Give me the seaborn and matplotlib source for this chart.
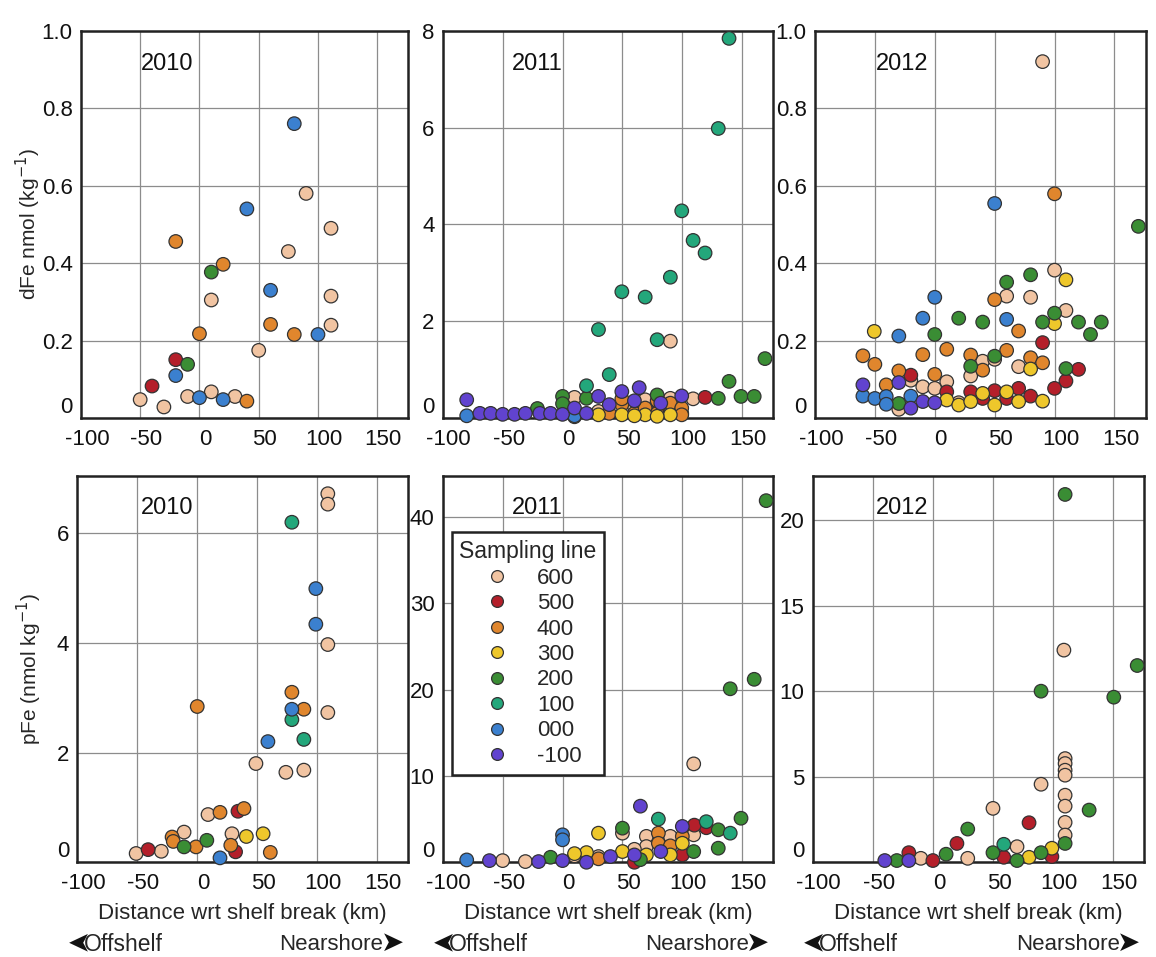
import pandas as pd
import seaborn as sns
import matplotlib.pyplot as plt
from matplotlib.transforms import ScaledTranslation

# Sampling lines and their colours (legend order)
lines = ['600', '500', '400', '300', '200', '100', '000', '-100']
line_colors = ['#f1c4a2', '#b41f2a', '#e0862d', '#eec72b', '#3a8d34', '#23a77b', '#3b80cf', '#6143cf']

years = ['2010', '2011', '2012']
x_ticks = [-100, -50, 0, 50, 100, 150]

# Values per panel, one sub-list per sampling line (same order as `lines`)
# dFe 2010
dfe_2010_km = [[90, 111, 75, 111, 111, 10, 50, -50, -30, -10, 10, 30],
               [-20, -40],
               [-20, 20, 0, 60, 80, 40],
               [],
               [10, -10],
               [],
               [80, 40, 60, 100, 0, 20, -20],
               []]
dfe_2010_val = [[0.58, 0.49, 0.43, 0.315, 0.24, 0.305, 0.175, 0.048, 0.029, 0.056, 0.068, 0.056],
                [0.151, 0.083],
                [0.456, 0.397, 0.218, 0.242, 0.216, 0.044],
                [],
                [0.377, 0.139],
                [],
                [0.76, 0.54, 0.33, 0.216, 0.053, 0.048, 0.11],
                []]

# dFe 2011
dfe_2011_km = [[90, 109, 10, 30, 60, 69, 90],
               [119, 99.5, 80],
               [39, 49.5, 60, 69, 79, 90, 99.5, 99.5, 49.5, 79],
               [30, 49.5, 69, 90, 10, 60, 79],
               [169, 139, 149, 160, 130, -21, 0, 20, 79, 0],
               [139, 130, 99.5, 109, 119, 90, 49.5, 69, 30, 79, 39, 20],
               [-80, 10],
               [99.5, -80, -69, -60, -50, -40, -31, -19, -10, 0, 30, 49.5, 64, 39, 60, 82, 10, 20]]
dfe_2011_val = [[1.59, 0.40, 0.43, 0.14, 0.24, 0.38, 0.41],
                [0.43, 0.10, 0.20],
                [0.10, 0.28, 0.10, 0.21, 0.10, 0.31, 0.21, 0.07, 0.40, 0.36],
                [0.07, 0.07, 0.07, 0.07, 0.03, 0.05, 0.04],
                [1.23, 0.76, 0.45, 0.45, 0.41, 0.20, 0.45, 0.41, 0.48, 0.30],
                [7.84, 5.98, 4.28, 3.67, 3.41, 2.91, 2.61, 2.50, 1.83, 1.62, 0.90, 0.67],
                [0.05, 0.05],
                [0.46, 0.38, 0.10, 0.10, 0.08, 0.08, 0.10, 0.10, 0.10, 0.08, 0.45, 0.55, 0.63, 0.28, 0.36, 0.31, 0.21, 0.10]]

# dFe 2012
dfe_2012_km = [[90, 100, 60, 80, 109.5, 40, 50, 70, 30, 10, -20, -10, 0, -30, 20],
               [90, 120, 109.5, 100, -20, 30, 50, 70, 80, 40, 60, 10],
               [100, 50, 70, -60, -50, -10, 10, 30, 60, 80, 90, 40, -30, 0, -40.5],
               [109.5, 100, -50.5, 80, 10, 20, 30, 40, 50, 60, 70, 90],
               [170, 80, 60, 100, 90, 120, 139, 130, 20, 40, 0, 30, 50, 109.5, -30],
               [],
               [50, 0, -10, 60, -30, -60, -50, -40.5, -40.5, -20],
               [-60, -30, -10, 0, -20]]
dfe_2012_val = [[0.92, 0.382, 0.315, 0.312, 0.278, 0.147, 0.152, 0.133, 0.109, 0.094, 0.098, 0.081, 0.077, 0.023, 0.040],
                [0.195, 0.126, 0.096, 0.077, 0.111, 0.068, 0.071, 0.077, 0.057, 0.051, 0.051, 0.068],
                [0.579, 0.306, 0.225, 0.161, 0.139, 0.164, 0.178, 0.163, 0.175, 0.156, 0.143, 0.124, 0.122, 0.113, 0.086],
                [0.357, 0.244, 0.224, 0.127, 0.047, 0.034, 0.043, 0.064, 0.034, 0.068, 0.043, 0.044],
                [0.495, 0.37, 0.351, 0.271, 0.248, 0.248, 0.248, 0.216, 0.258, 0.248, 0.216, 0.134, 0.16, 0.128, 0.038],
                [],
                [0.554, 0.312, 0.258, 0.255, 0.212, 0.057, 0.051, 0.056, 0.036, 0.057],
                [0.086, 0.092, 0.043, 0.040, 0.026]]

# pFe 2010
pfe_2010_km = [[109, 109, 109, 109, 49, 74, 89, 9, -11, 29, -51, -30],
               [34, 32, -41],
               [79, 0, 89, 19, 39, -21, -20, -1, 28, 61],
               [41, 55],
               [-11, 8],
               [79, 79, 89],
               [99, 99, 79, 59, 19],
               []]
pfe_2010_val = [[6.72, 6.53, 3.97, 2.73, 1.80, 1.64, 1.68, 0.87, 0.55, 0.52, 0.16, 0.20],
                [0.93, 0.19, 0.23],
                [3.10, 2.84, 2.79, 0.91, 0.98, 0.46, 0.38, 0.28, 0.31, 0.18],
                [0.47, 0.52],
                [0.28, 0.40],
                [6.20, 2.60, 2.24],
                [4.99, 4.34, 2.79, 2.20, 0.08],
                []]

# pFe 2011
pfe_2011_km = [[109.5, 109.5, 90, 50, 70, 70, -50, -31, 10, 30, 60],
               [120, 60, 100, 110],
               [100, 80, 80, 30, 90],
               [30, 20, 50, 70, 90, 100, 10],
               [170, 160, 140, 149, 130, 109.5, 130, -10, 50, 65],
               [80, 120, 140],
               [-80, 0, 0],
               [65, 100, -61, -20, 0, 20, 40, 60, 82]]
pfe_2011_val = [[11.4, 3.18, 3.0, 3.37, 3.0, 1.82, 0.19, 0.08, 0.74, 0.66, 1.5],
                [4.0, 0.0, 0.85, 4.3],
                [3.0, 3.37, 2.2, 0.4, 1.9],
                [3.37, 1.12, 1.24, 0.85, 0.85, 2.2, 1.0],
                [41.9, 21.2, 20.1, 5.1, 3.76, 1.24, 1.63, 0.58, 3.95, 0.3],
                [5.0, 4.7, 3.37],
                [0.27, 3.18, 2.6],
                [6.5, 4.15, 0.19, 0.08, 0.19, 0.0, 0.66, 0.85, 1.24]]

# pFe 2012
pfe_2012_km = [[109, 110, 110, 110, 110, 110, 110, 110, 110, 90, 50, 29, 70, -10],
               [80, 20, 59, 99, -20, 0],
               [],
               [80, 99],
               [110, 170, 90, 150.5, 110, 130, 29, 11, 50, 70, 90, -30],
               [59],
               [],
               [-40, -20]]
pfe_2012_val = [[12.4, 6.06, 5.77, 5.38, 5.09, 3.92, 3.28, 2.33, 1.59, 4.56, 3.15, 0.23, 0.91, 0.23],
                [2.31, 1.1, 0.29, 0.33, 0.56, 0.1],
                [],
                [0.29, 0.82],
                [21.5, 11.5, 10.0, 9.65, 1.1, 3.05, 1.94, 0.47, 0.56, 0.1, 0.56, 0.1],
                [1.05],
                [],
                [0.1, 0.1]]

# y ticks per panel
dfe_2010_yticks = [0, 0.2, 0.4, 0.6, 0.8, 1.0]
dfe_2010_ylabels = ['0', '0.2', '0.4', '0.6', '0.8', '1.0']
dfe_2011_yticks = [0, 2, 4, 6, 8]
dfe_2012_yticks = [0, 0.2, 0.4, 0.6, 0.8, 1.0]
pfe_2010_yticks = [0, 2, 4, 6]
pfe_2011_yticks = [0, 10, 20, 30, 40]
pfe_2012_yticks = [0, 5, 10, 15, 20]


def to_frame(km, val):
    rows = []
    for name, xs, ys in zip(lines, km, val):
        for x, y in zip(xs, ys):
            rows.append({'km': x, 'val': y, 'line': name})
    return pd.DataFrame(rows)


sns.set_theme(style='whitegrid')
plt.rcParams['font.family'] = ['Liberation Sans', 'DejaVu Sans']
plt.rcParams['axes.unicode_minus'] = False

palette = dict(zip(lines, line_colors))

fig = plt.figure(figsize=(11.56, 9.57), dpi=100)
shift_right = ScaledTranslation(6 / 100, 0, fig.dpi_scale_trans)

# axes rectangles in figure fractions
panels = [
    (dfe_2010_km, dfe_2010_val, dfe_2010_yticks, dfe_2010_ylabels, 1.0, [0.070, 0.563, 0.283, 0.405]),
    (dfe_2011_km, dfe_2011_val, dfe_2011_yticks, None, 8.0, [0.383, 0.563, 0.286, 0.405]),
    (dfe_2012_km, dfe_2012_val, dfe_2012_yticks, dfe_2010_ylabels, 1.0, [0.705, 0.563, 0.286, 0.405]),
    (pfe_2010_km, pfe_2010_val, pfe_2010_yticks, None, 7.05, [0.067, 0.099, 0.286, 0.404]),
    (pfe_2011_km, pfe_2011_val, pfe_2011_yticks, None, 44.8, [0.383, 0.099, 0.286, 0.404]),
    (pfe_2012_km, pfe_2012_val, pfe_2012_yticks, None, 22.6, [0.703, 0.099, 0.287, 0.404]),
]

year_x = [0.265, 0.285, 0.265, 0.27, 0.285, 0.27]

for i, (km, val, yticks, ylabels, ymax, rect) in enumerate(panels):
    ax = fig.add_axes(rect)
    df = to_frame(km, val)
    show_legend = (i == 4)
    sns.scatterplot(data=df, x='km', y='val', hue='line', hue_order=lines,
                    palette=palette, s=95, edgecolor='#333333', linewidth=0.9,
                    ax=ax, legend=show_legend, clip_on=False, zorder=3)

    ax.set_xlim(-100, 176)
    ax.set_ylim(0, ymax)
    ax.set_xticks(x_ticks)
    ax.set_xticklabels([str(t) for t in x_ticks])
    ax.set_yticks(yticks)
    if ylabels is not None:
        ax.set_yticklabels(ylabels)
    else:
        ax.set_yticklabels([str(t) for t in yticks])
    ax.tick_params(axis='both', labelsize=16, length=0, colors='#111111')
    ax.tick_params(axis='x', pad=8)
    ax.tick_params(axis='y', pad=6)
    for lab in ax.get_xticklabels():
        lab.set_transform(lab.get_transform() + shift_right)
    ax.get_yticklabels()[0].set_va('bottom')
    ax.grid(True, color='#8c8c8c', linewidth=0.9)
    ax.set_axisbelow(True)
    for sp in ax.spines.values():
        sp.set_color('#222222')
        sp.set_linewidth(1.8)
    ax.set_xlabel('')
    ax.set_ylabel('')

    ax.text(year_x[i], 0.915, years[i % 3], transform=ax.transAxes,
            ha='center', va='center', fontsize=17, color='#111111')

    if i == 0:
        ax.set_ylabel('dFe nmol (kg$^{-1}$)', fontsize=15)
        ax.yaxis.set_label_coords(-0.115, 0.5)
    if i == 3:
        ax.set_ylabel('pFe (nmol kg$^{-1}$)', fontsize=15)
        ax.yaxis.set_label_coords(-0.1, 0.5)

    if i >= 3:
        ax.set_xlabel('Distance wrt shelf break (km)', fontsize=16)
        ax.xaxis.set_label_coords(0.5, -0.105)
        # offshelf / nearshore direction hints
        ax.text(0.022, -0.199, '➤', rotation=180, rotation_mode='anchor',
                transform=ax.transAxes, ha='left', va='center',
                fontsize=20, color='#111111')
        ax.text(0.02, -0.212, 'Offshelf', transform=ax.transAxes,
                ha='left', va='center', fontsize=16.5)
        ax.text(0.925, -0.212, 'Nearshore', transform=ax.transAxes,
                ha='right', va='center', fontsize=16)
        ax.text(0.918, -0.212, '➤', transform=ax.transAxes,
                ha='left', va='center', fontsize=20, color='#111111')

    if show_legend:
        sns.move_legend(ax, 'upper left', bbox_to_anchor=(0.027, 0.853),
                        title='Sampling line', frameon=True, fancybox=False,
                        fontsize=16, title_fontsize=16.5, borderaxespad=0,
                        labelspacing=0.2, handletextpad=0.8, borderpad=0.35,
                        markerscale=1.0)
        leg = ax.get_legend()
        leg.get_frame().set_edgecolor('#222222')
        leg.get_frame().set_linewidth(1.8)
        leg.get_frame().set_alpha(1)
        for h in leg.legend_handles:
            h.set_markersize(8.5)
        leg.set_zorder(5)

fig.savefig('out.png', dpi=100)
